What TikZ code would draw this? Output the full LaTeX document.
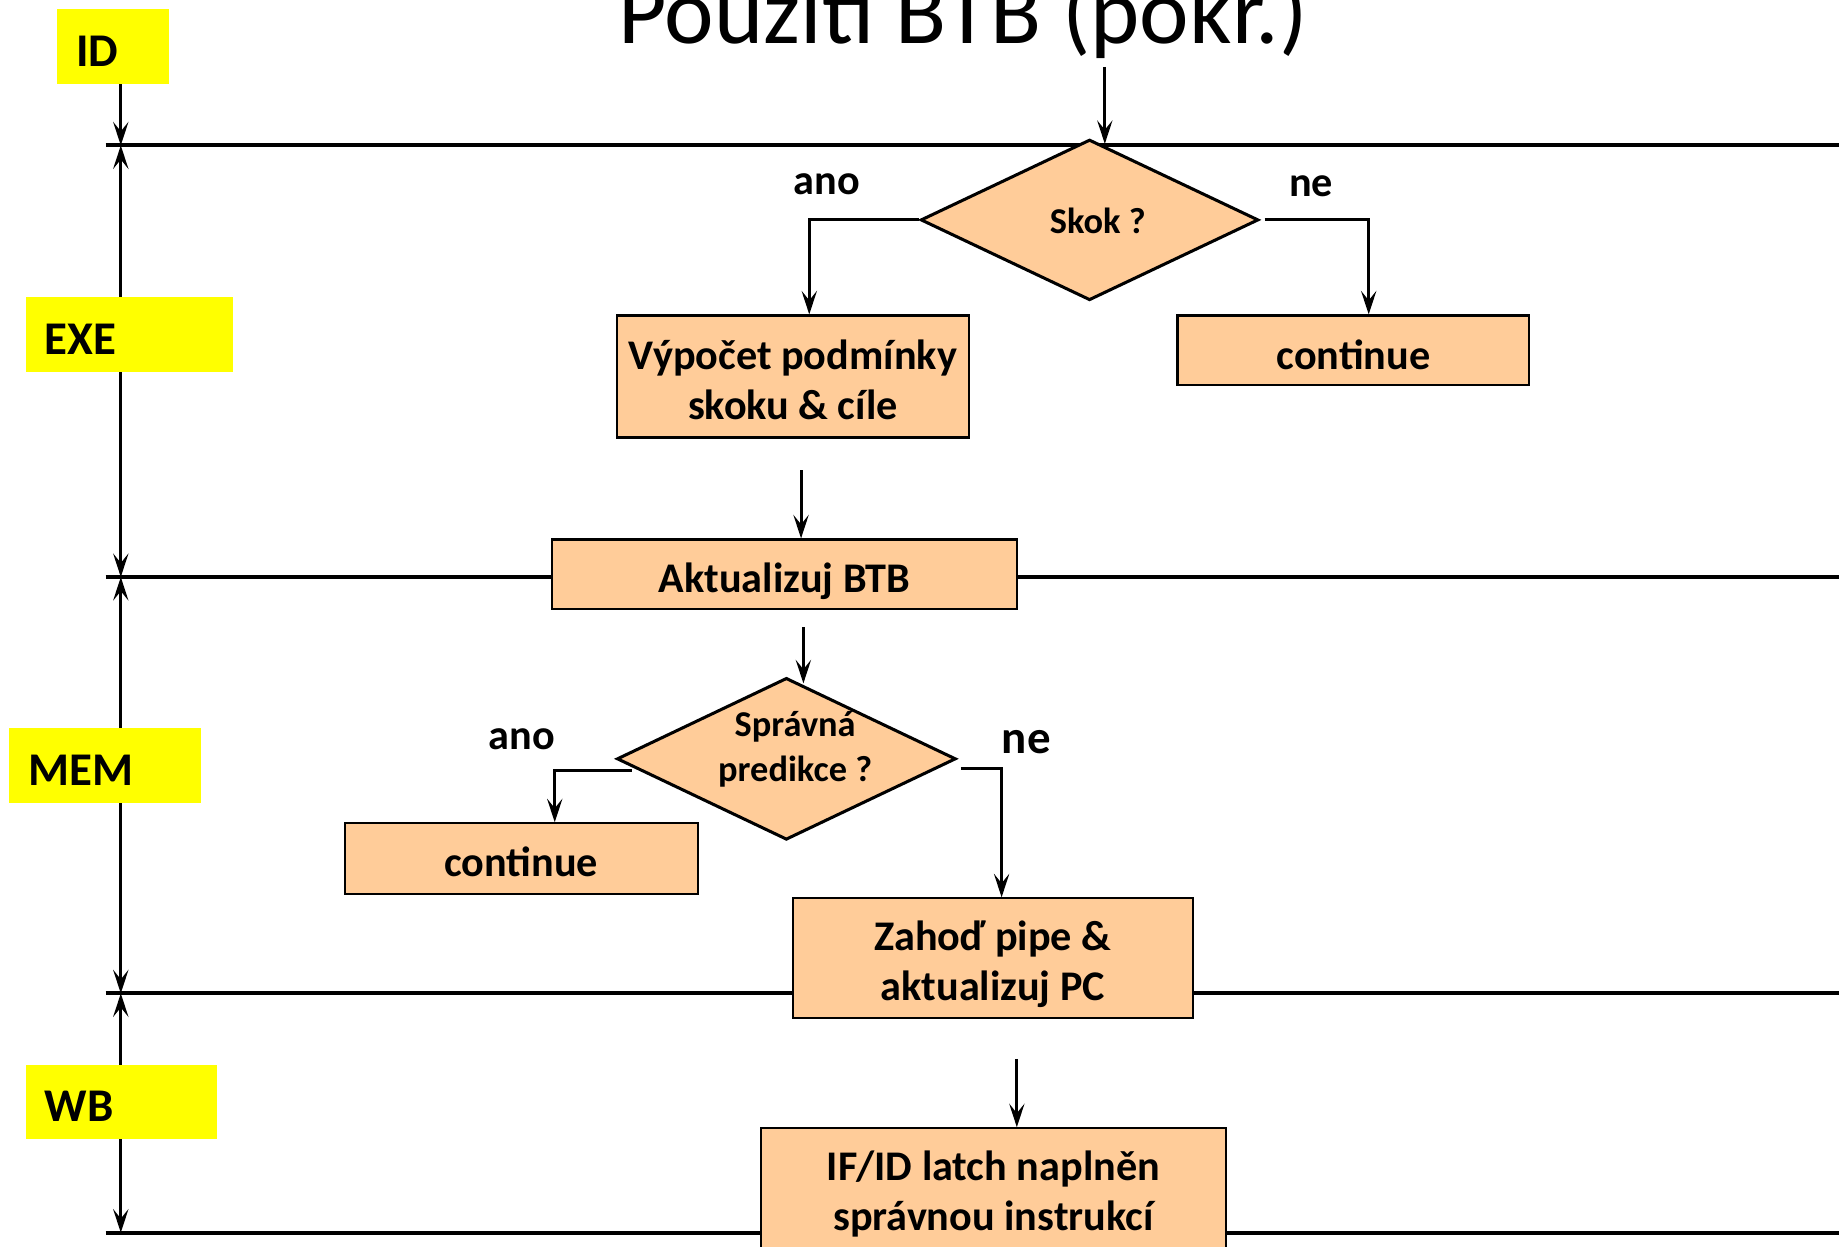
\documentclass[tikz,border=0pt]{standalone}
\usepackage{fontspec}
\setmainfont{Carlito}
\usetikzlibrary{arrows.meta,shapes.geometric,calc}
\definecolor{peach}{HTML}{FFCC99}
\definecolor{stageyellow}{HTML}{FFFF00}
\begin{document}
\begin{tikzpicture}[x=0.5pt,y=-0.5pt,
  tipstyle/.style={line width=1.3pt},
  flow/.style={tipstyle,-{Stealth[length=10pt,width=6.5pt,inset=4pt]}},
  span/.style={tipstyle,{Stealth[length=10pt,width=6.5pt,inset=4pt]}-{Stealth[length=10pt,width=6.5pt,inset=4pt]}},
  stageline/.style={line width=1.7pt},
  stagebox/.style={fill=stageyellow, inner xsep=8pt, inner ysep=0pt, align=left,
    text height=16.9pt, text depth=0pt,
    font=\fontsize{20pt}{24pt}\selectfont\bfseries},
  procbox/.style={draw, fill=peach, line width=0.9pt, inner sep=0pt},
  boxtext/.style={align=center, inner sep=0pt,
    font=\fontsize{18pt}{21.5pt}\selectfont\bfseries},
  decision/.style={draw, diamond, fill=peach, line width=1.3pt, inner sep=0pt, aspect=2.1},
  smalltext/.style={align=center, font=\fontsize{15.5pt}{19pt}\selectfont\bfseries},
  branch/.style={font=\fontsize{18pt}{21.5pt}\selectfont\bfseries}
]
\useasboundingbox (0,0) rectangle (1568,1063);

% pipeline stage boundaries
\coordinate (L1) at (90,124);  \coordinate (R1) at (1568,124);
\coordinate (L2) at (90,492);  \coordinate (R2) at (1568,492);
\coordinate (L3) at (90,847);  \coordinate (R3) at (1568,847);
\coordinate (L4) at (90,1051); \coordinate (R4) at (1568,1051);
\foreach \i in {1,...,4} \draw[stageline] (L\i) -- (R\i);

% time axis on the left
\coordinate (T1) at (103,124);
\coordinate (T2) at (103,492);
\coordinate (T3) at (103,847);
\coordinate (T4) at (103,1051);
\coordinate (Tstart) at (103,72);
\draw[flow] (Tstart) -- (T1);
\draw[span] (T1) -- (T2);
\draw[span] (T2) -- (T3);
\draw[span] (T3) -- (T4);

% stage names
\node[stagebox, text width=31.5pt, minimum height=32pt] (id)  at (96.5,40)   {ID};
\node[stagebox, text width=72.5pt, minimum height=32pt] (exe) at (110.5,285) {EXE};
\node[stagebox, text width=65.5pt, minimum height=32pt] (mem) at (89.5,653)  {MEM};
\node[stagebox, text width=65.5pt, minimum height=31.5pt] (wb) at (103.5,939.5) {WB};

% title
\node[anchor=base, font=\fontsize{40pt}{48pt}\selectfont] (title) at (821,37) {Použití BTB (pokr.)};

% flow chart: shapes
\node[decision, minimum width=144pt, minimum height=68.5pt] (skok) at (929,187.5) {};
\node[procbox, minimum width=150pt, minimum height=52pt] (vyp) at (676,321) {};
\node[procbox, minimum width=150pt, minimum height=29.5pt] (cont1) at (1154,298.5) {};
\node[procbox, minimum width=198pt, minimum height=29.5pt] (akt) at (669,489.5) {};
\node[decision, minimum width=144.5pt, minimum height=69pt] (sprav) at (670.5,647) {};
\node[procbox, minimum width=150.5pt, minimum height=30pt] (cont2) at (444.5,732) {};
\node[procbox, minimum width=170.5pt, minimum height=51pt] (zah) at (846.5,817) {};
\node[procbox, minimum width=198pt, minimum height=51pt] (ifid) at (847,1013) {};

% flow chart: texts
\node[smalltext] (skoktxt) at (936,188) {Skok ?};
\node[smalltext] (spravtxt) at (678,639) {Správná\\predikce ?};
\node[boxtext] (vyptxt)   at ([yshift=-1.5pt]vyp.center)   {Výpočet podmínky\\skoku \& cíle};
\node[boxtext] (cont1txt) at ([yshift=-2pt]cont1.center)   {continue};
\node[boxtext] (akttxt)   at ([yshift=-3pt]akt.center)     {Aktualizuj BTB};
\node[boxtext] (cont2txt) at ([yshift=-1.5pt]cont2.center) {continue};
\node[boxtext] (zahtxt)   at ([yshift=-2.5pt]zah.center)   {Zahoď pipe \&\\aktualizuj PC};
\node[boxtext] (ifidtxt)  at ([yshift=-2.5pt]ifid.center)  {IF/ID latch naplněn\\správnou instrukcí};

% branch labels
\node[branch] (ano1) at (705,157) {ano};
\node[branch] (ne1)  at (1118,159) {ne};
\node[branch] (ano2) at (445,630) {ano};
\node[branch, font=\fontsize{20pt}{24pt}\selectfont\bfseries] (ne2) at (875,633) {ne};

% connectors
\coordinate (entry) at (942,57);
\draw[flow] (entry) -- ([yshift=-2.5pt]entry |- skok.north);
\draw[flow] (skok.west) -| ([xshift=7pt]vyp.north);
\draw[flow] ([xshift=2pt]skok.east) -| ([xshift=6.5pt]cont1.north);
\draw[flow] ([xshift=3.5pt,yshift=-13.5pt]vyp.south) -- ([xshift=7pt]akt.north);
\draw[flow] ([xshift=8pt,yshift=-7.5pt]akt.south) coordinate (a2) -- ([yshift=-3pt]a2 |- sprav.north);
\draw[flow] ([xshift=7pt,yshift=-5pt]sprav.west) -| ([xshift=14.25pt]cont2.north);
\draw[flow] ([xshift=1.5pt,yshift=-4pt]sprav.east) -| ([xshift=3.75pt]zah.north);
\draw[flow] ([xshift=10.25pt,yshift=-17pt]zah.south) -- ([xshift=10pt]ifid.north);
\end{tikzpicture}
\end{document}
